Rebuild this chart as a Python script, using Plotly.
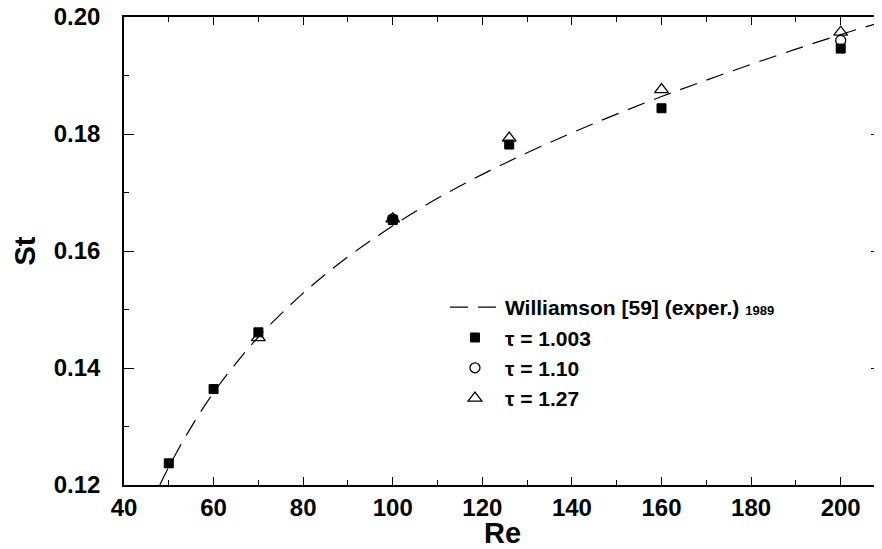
import plotly.graph_objects as go

will_re = [48, 50, 55, 60, 65, 70, 80, 90, 100, 110, 120, 130, 140, 150, 160, 170, 180, 190, 200, 209]
will_st = [0.1200, 0.1231, 0.1299, 0.1358, 0.1408, 0.1453, 0.1528, 0.1590, 0.1643, 0.1690,
           0.1731, 0.1768, 0.1802, 0.1834, 0.1864, 0.1892, 0.1919, 0.1945, 0.1970, 0.1991]

# tau = 1.003 (filled squares)
t1_re = [50, 60, 70, 100, 126, 160, 200]
t1_st = [0.1237, 0.1364, 0.1461, 0.1653, 0.1782, 0.1844, 0.1946]

# tau = 1.10 (open circles)
t2_re = [100, 200]
t2_st = [0.1655, 0.1960]

# tau = 1.27 (open triangles)
t3_re = [70, 100, 126, 160, 200]
t3_st = [0.1452, 0.1655, 0.1793, 0.1876, 0.1974]

FONT = "Liberation Sans, Arial, Helvetica, sans-serif"

fig = go.Figure()
fig.add_trace(go.Scatter(
    x=will_re, y=will_st, mode="lines", line_shape="spline",
    line=dict(color="black", width=1.2, dash="18px,10px"),
    name="Williamson [59] (exper.) <span style='font-size:13px'>1989</span>",
))
fig.add_trace(go.Scatter(
    x=t1_re, y=t1_st, mode="markers",
    marker=dict(symbol="square", size=9, color="black", line=dict(color="black", width=1)),
    name="τ = 1.003",
))
fig.add_trace(go.Scatter(
    x=t2_re, y=t2_st, mode="markers",
    marker=dict(symbol="circle-open", size=10, color="black", line=dict(color="black", width=1.3)),
    name="τ = 1.10",
))
fig.add_trace(go.Scatter(
    x=t3_re, y=t3_st, mode="markers",
    marker=dict(symbol="triangle-up-open", size=12, color="black", line=dict(color="black", width=1.3)),
    name="τ = 1.27",
))

axis_common = dict(
    showline=True, linecolor="black", linewidth=1.5, mirror="ticks",
    ticks="inside", tickwidth=1.2, tickcolor="black",
    showgrid=False, zeroline=False, automargin=False, ticklabeloverflow="allow",
    tickfont=dict(family=FONT, size=24, color="black", weight="bold"),
)

fig.update_xaxes(
    range=[40, 209], tick0=40, dtick=20, ticklen=8, ticklabelstandoff=0,
    minor=dict(dtick=10, ticks="inside", ticklen=5, tickwidth=1.2, tickcolor="black"),
    title=dict(text="Re", font=dict(family=FONT, size=29, color="black", weight="bold"), standoff=0),
    **axis_common,
)
fig.update_yaxes(
    range=[0.12, 0.20], tick0=0.12, dtick=0.02, tickformat=".2f", ticklen=10, ticklabelstandoff=17,
    minor=dict(dtick=0.01, ticks="inside", ticklen=5, tickwidth=1.2, tickcolor="black"),
    title=dict(text="St", font=dict(family=FONT, size=29, color="black", weight="bold"), standoff=10),
    **axis_common,
)

# the page has an 8px body margin, so the figure is sized and offset to fit
fig.update_layout(
    width=874, height=541,
    margin=dict(l=116, r=1, t=9, b=64),
    paper_bgcolor="white", plot_bgcolor="white",
    showlegend=True,
    legend=dict(
        x=0.424, y=0.423, xanchor="left", yanchor="top",
        bgcolor="rgba(0,0,0,0)", borderwidth=0, tracegroupgap=0,
        itemwidth=50,
        font=dict(family=FONT, size=21, color="black", weight="bold"),
    ),
)

fig.write_html("out.html")
